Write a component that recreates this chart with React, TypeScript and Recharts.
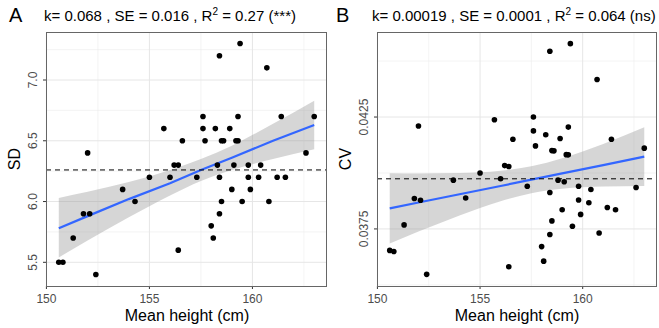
import React from "react";
import {
  ComposedChart,
  Scatter,
  Line,
  Area,
  XAxis,
  YAxis,
  CartesianGrid,
  ReferenceLine,
} from "recharts";

// ── Data ──────────────────────────────────────────────────────────────────────

const heightA = [
  159.4, 158.4, 160.7, 157.6, 161.4, 163.0, 159.3, 155.7, 157.6, 158.2,
  158.9, 156.6, 157.7, 158.5, 158.6, 159.2, 159.3, 152.0, 162.6, 156.2,
  156.4, 158.3, 159.1, 159.8, 160.4, 155.0, 156.0, 157.3, 158.4, 159.8,
  160.3, 161.2, 161.6, 153.7, 159.0, 159.9, 154.3, 158.5, 159.5, 160.8,
  151.8, 152.1, 158.4, 158.0, 151.3, 158.1, 156.4, 150.6, 150.8, 152.4,
];
const sdA = [
  7.3, 7.2, 7.1, 6.7, 6.7, 6.7, 6.7, 6.6, 6.6, 6.6,
  6.6, 6.5, 6.5, 6.5, 6.5, 6.5, 6.5, 6.4, 6.4, 6.3,
  6.3, 6.3, 6.3, 6.3, 6.3, 6.2, 6.2, 6.2, 6.2, 6.2,
  6.2, 6.2, 6.2, 6.1, 6.1, 6.1, 6.0, 6.0, 6.0, 6.0,
  5.9, 5.9, 5.9, 5.8, 5.7, 5.7, 5.6, 5.5, 5.5, 5.4,
];

const heightB = [
  159.4, 158.4, 160.7, 155.7, 157.6, 152.0, 159.3, 157.6, 158.2, 158.9,
  161.4, 156.6, 157.7, 163.0, 158.5, 158.6, 159.2, 159.3, 156.2, 156.4,
  155.0, 153.7, 156.0, 158.8, 159.1, 157.3, 159.8, 162.6, 160.4, 158.4,
  151.8, 154.3, 152.1, 159.8, 160.3, 161.2, 161.6, 159.0, 159.9, 158.5,
  151.3, 159.5, 160.8, 158.4, 158.0, 158.1, 150.6, 150.8, 156.4, 152.4,
];
const cvB = [
  0.04578, 0.04544, 0.04418, 0.04238, 0.0425, 0.0421, 0.04205, 0.04188, 0.04171, 0.04154,
  0.04151, 0.04151, 0.04121, 0.04111, 0.041, 0.04099, 0.04082, 0.04081, 0.04033, 0.04029,
  0.04, 0.03968, 0.03974, 0.03968, 0.03961, 0.03941, 0.03941, 0.03935, 0.03926, 0.03913,
  0.03886, 0.03888, 0.03878, 0.03879, 0.03867, 0.03846, 0.03836, 0.03836, 0.03815, 0.03786,
  0.03768, 0.03762, 0.03732, 0.03725, 0.03671, 0.03606, 0.03654, 0.03649, 0.03581, 0.03547,
];

// fitted line and its grey band, read at a few heights
const fitX = [150.6, 152, 154, 156, 157.5, 159, 161, 163];
const fitA = [5.78, 5.88, 6.02, 6.15, 6.26, 6.36, 6.5, 6.63];
const lowA = [5.54, 5.68, 5.87, 6.05, 6.17, 6.26, 6.35, 6.43];
const highA = [6.03, 6.08, 6.16, 6.26, 6.35, 6.46, 6.64, 6.83];
const fitB = [0.03842, 0.03868, 0.03905, 0.03942, 0.0397, 0.03998, 0.04035, 0.04073];
const lowB = [0.03685, 0.03738, 0.0381, 0.03874, 0.0391, 0.0393, 0.0394, 0.03942];
const highB = [0.03999, 0.03998, 0.04, 0.0401, 0.0403, 0.04066, 0.0413, 0.04204];

// dashed reference (mean) lines
const meanA = 6.26;
const meanB = 0.03974;

const xTicks = [150, 155, 160];
const xMinor = [152.5, 157.5, 162.5];
const yTicksA = [5.5, 6.0, 6.5, 7.0];
const yMinorA = [5.75, 6.25, 6.75, 7.25];
const yTicksB = [0.0375, 0.0425];
const yMinorB = [0.035, 0.04, 0.045];

// ── Helpers ───────────────────────────────────────────────────────────────────

const FONT = "'Liberation Sans', Arial, Helvetica, sans-serif";
const TICK_GREY = "#4D4D4D";
const PLOT_TOP = 32;
const PLOT_BOTTOM = 286;

function YTick(props: any) {
  const { x, y, payload, fmt } = props;
  return (
    <text
      x={x}
      y={y}
      transform={`rotate(-90 ${x} ${y})`}
      textAnchor="middle"
      fill={TICK_GREY}
      fontSize={12}
    >
      {fmt(payload.value)}
    </text>
  );
}

const dot = (p: any) => <circle cx={p.cx} cy={p.cy} r={2.8} fill="#000" />;

type PanelProps = {
  left: number;
  width: number;
  axisWidth: number;
  marginRight: number;
  xs: number[];
  ys: number[];
  fit: number[];
  low: number[];
  high: number[];
  mean: number;
  yDomain: [number, number];
  yTicks: number[];
  yMinor: number[];
  fmt: (v: number) => string;
};

function Panel(p: PanelProps) {
  const points = p.xs.map((x, i) => ({ x, y: p.ys[i] }));
  const band = fitX.map((x, i) => ({ x, fit: p.fit[i], band: [p.low[i], p.high[i]] }));
  return (
    <div style={{ position: "absolute", left: p.left, top: 0 }}>
      <ComposedChart
        width={p.width}
        height={328}
        data={band}
        margin={{ top: PLOT_TOP, right: p.marginRight, bottom: 0, left: 0 }}
      >
        <CartesianGrid
          stroke="#EDEDED"
          strokeWidth={0.6}
          verticalValues={xMinor}
          horizontalValues={p.yMinor}
        />
        <CartesianGrid
          stroke="#E6E6E6"
          strokeWidth={1}
          verticalValues={xTicks}
          horizontalValues={p.yTicks}
        />
        <XAxis
          type="number"
          dataKey="x"
          domain={[149.98, 163.62]}
          allowDataOverflow
          ticks={xTicks}
          height={42}
          tickSize={3}
          tickMargin={5}
          axisLine={false}
          tickLine={{ stroke: "#333" }}
          tick={{ fill: TICK_GREY, fontSize: 12 }}
        />
        <YAxis
          type="number"
          domain={p.yDomain}
          allowDataOverflow
          ticks={p.yTicks}
          width={p.axisWidth}
          tickSize={3}
          tickMargin={6}
          axisLine={false}
          tickLine={{ stroke: "#333" }}
          tick={<YTick fmt={p.fmt} />}
        />
        <Area
          type="monotone"
          dataKey="band"
          stroke="none"
          fill="#999999"
          fillOpacity={0.4}
          isAnimationActive={false}
        />
        <Line
          type="linear"
          dataKey="fit"
          stroke="#3366FF"
          strokeWidth={2.2}
          dot={false}
          isAnimationActive={false}
        />
        <Scatter data={points} dataKey="y" shape={dot} isAnimationActive={false} />
        <ReferenceLine y={p.mean} stroke="#000" strokeWidth={1} strokeDasharray="5 4" />
      </ComposedChart>
    </div>
  );
}

// ── App ───────────────────────────────────────────────────────────────────────

export default function App() {
  return (
    <div
      style={{
        position: "absolute",
        left: 0,
        top: 0,
        width: 659,
        height: 328,
        background: "#fff",
        fontFamily: FONT,
        overflow: "hidden",
      }}
    >
      <Panel
        left={0}
        width={330}
        axisWidth={46}
        marginRight={3}
        xs={heightA}
        ys={sdA}
        fit={fitA}
        low={lowA}
        high={highA}
        mean={meanA}
        yDomain={[5.305, 7.395]}
        yTicks={yTicksA}
        yMinor={yMinorA}
        fmt={v => v.toFixed(1)}
      />
      <Panel
        left={330}
        width={329}
        axisWidth={47}
        marginRight={2}
        xs={heightB}
        ys={cvB}
        fit={fitB}
        low={lowB}
        high={highB}
        mean={meanB}
        yDomain={[0.03495, 0.0463]}
        yTicks={yTicksB}
        yMinor={yMinorB}
        fmt={v => String(v)}
      />

      {/* titles, axis titles and panel borders */}
      <svg
        width={659}
        height={328}
        style={{ position: "absolute", left: 0, top: 0, pointerEvents: "none", fontFamily: FONT }}
      >
        <rect x={46.5} y={PLOT_TOP + 0.5} width={280} height={PLOT_BOTTOM - PLOT_TOP} fill="none" stroke="#666" />
        <rect x={377.5} y={PLOT_TOP + 0.5} width={279} height={PLOT_BOTTOM - PLOT_TOP} fill="none" stroke="#666" />

        <text x={9} y={22} fontSize={20} fill="#000">A</text>
        <text x={44} y={21} fontSize={15} fill="#000">
          k= 0.068 , SE = 0.016 , R<tspan dy={-6} fontSize={10}>2</tspan>
          <tspan dy={6}> = 0.27 (***)</tspan>
        </text>

        <text x={336} y={22} fontSize={20} fill="#000">B</text>
        <text x={372} y={21} fontSize={15} fill="#000">
          k= 0.00019 , SE = 0.0001 , R<tspan dy={-6} fontSize={10}>2</tspan>
          <tspan dy={6}> = 0.064 (ns)</tspan>
        </text>

        <text x={187} y={321} fontSize={16} textAnchor="middle" fill="#000">Mean height (cm)</text>
        <text x={517} y={321} fontSize={16} textAnchor="middle" fill="#000">Mean height (cm)</text>

        <text x={20} y={159} fontSize={16} textAnchor="middle" transform="rotate(-90 20 159)" fill="#000">SD</text>
        <text x={351} y={159} fontSize={16} textAnchor="middle" transform="rotate(-90 351 159)" fill="#000">CV</text>
      </svg>
    </div>
  );
}
